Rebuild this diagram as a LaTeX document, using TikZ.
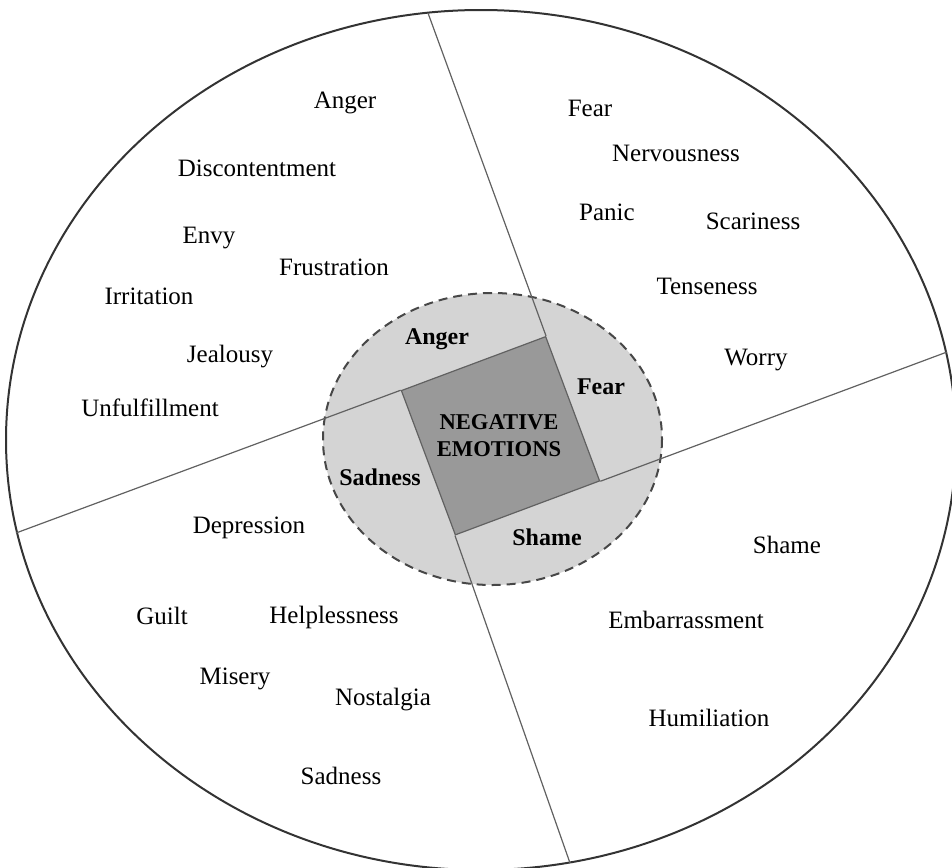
\documentclass[tikz,border=0pt]{standalone}
\usepackage{fontspec}
\setmainfont{Liberation Serif}
\usepackage{tikz}
\usetikzlibrary{calc}

\tikzset{
  word/.style={font=\fontsize{12.5}{15}\selectfont, inner sep=0pt},
  group/.style={font=\fontsize{12}{14}\selectfont\bfseries, inner sep=0pt},
  spoke/.style={draw=black!62, line width=0.6pt},
}

\begin{document}
\begin{tikzpicture}[x=0.5pt,y=-0.5pt]
\def\cx{481}\def\cy{440}
\def\rx{475}\def\ry{430}
\def\ix{492.5}\def\iy{439}
\useasboundingbox (0,0) rectangle (952,867);
\clip (0,0) rectangle (952,867);
% Outer ellipse
\draw[black!80, line width=1pt] (\cx,\cy) ellipse [x radius=\rx, y radius=\ry];
% Inner dashed ellipse
\filldraw[fill=black!17, draw=black!72, line width=1pt, dash pattern=on 4.5pt off 3pt]
  (\ix,\iy) ellipse [x radius=169.5, y radius=146];
% Core square
\node[draw=black!62, line width=0.6pt, fill=black!40, rotate=20.5,
  minimum size=77pt, inner sep=0pt] (core) at (500.5,435.75) {};
\node[font=\fontsize{11.3}{13.5}\selectfont\bfseries, align=center, inner sep=0pt]
  (neg) at (499,436) {NEGATIVE\\EMOTIONS};
% Spokes, each one carries a side of the square out to the rim
\coordinate (top) at (428,13);
\coordinate (bot) at (570,863);
\coordinate (lft) at (16,533);
\coordinate (rgt) at (947,352);
\draw[spoke] (core.north east) -- (top);
\draw[spoke] (core.south west) -- (bot);
\draw[spoke] (core.north west) -- (lft);
\draw[spoke] (core.south east) -- (rgt);

% Group labels in the ring
\node[group] (gAnger) at (437,339) {Anger};
\node[group] (gFear) at (601,387) {Fear};
\node[group] (gSad) at (380,477) {Sadness};
\node[group] (gShame) at (547,537) {Shame};

% Anger quarter
\node[word] (anger) at (345,103) {Anger};
\node[word] (discont) at (257,168) {Discontentment};
\node[word] (envy) at (209,238) {Envy};
\node[word] (frust) at (334,267) {Frustration};
\node[word] (irrit) at (149,296) {Irritation};
\node[word] (jeal) at (230,357) {Jealousy};
\node[word] (unful) at (150,408) {Unfulfillment};
% Fear quarter
\node[word] (fear) at (590,108) {Fear};
\node[word] (nerv) at (676,153) {Nervousness};
\node[word] (panic) at (607,212) {Panic};
\node[word] (scar) at (753,221) {Scariness};
\node[word] (tense) at (707,286) {Tenseness};
\node[word] (worry) at (756,360) {Worry};
% Sadness quarter
\node[word] (depr) at (249,528) {Depression};
\node[word] (guilt) at (162,616) {Guilt};
\node[word] (helpl) at (334,617) {Helplessness};
\node[word] (misery) at (235,679) {Misery};
\node[word] (nost) at (383,700) {Nostalgia};
\node[word] (sad) at (341,776) {Sadness};
% Shame quarter
\node[word] (shame) at (787,545) {Shame};
\node[word] (embar) at (686,620) {Embarrassment};
\node[word] (humil) at (709,718) {Humiliation};
\end{tikzpicture}
\end{document}
